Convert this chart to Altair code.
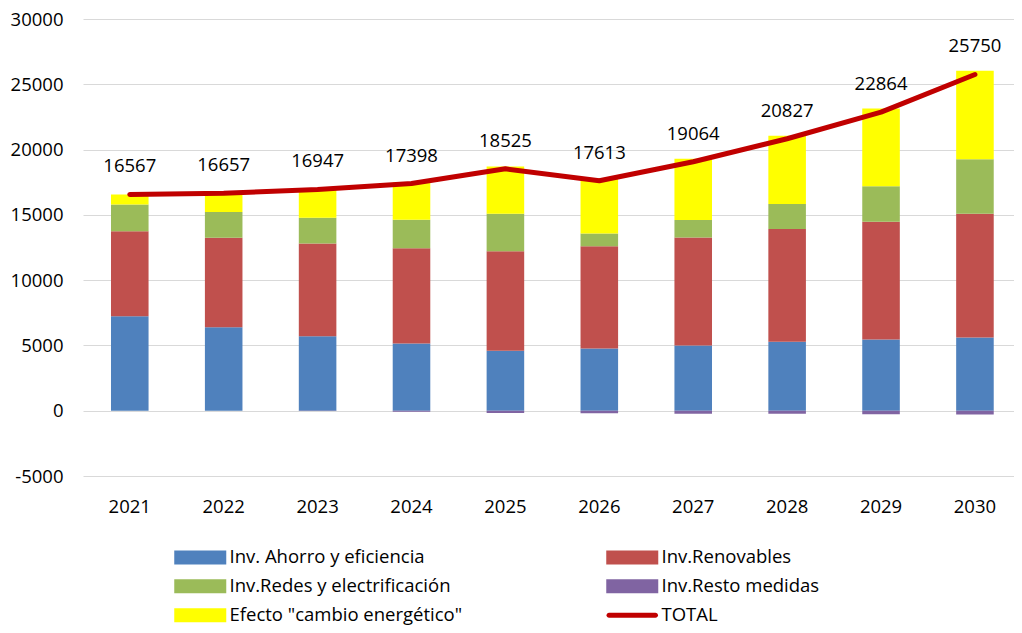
import altair as alt
import pandas as pd

years = ["2021", "2022", "2023", "2024", "2025", "2026", "2027", "2028", "2029", "2030"]
ahorro = [7230, 6390, 5700, 5140, 4600, 4760, 4990, 5290, 5450, 5600]
renovables = [6520, 6860, 7110, 7310, 7620, 7840, 8280, 8620, 9020, 9490]
redes = [2050, 1960, 1970, 2180, 2870, 980, 1330, 1920, 2730, 4160]
resto = [0, 0, -20, -80, -180, -200, -230, -240, -280, -290]
efecto = [767, 1447, 2187, 2848, 3615, 4233, 4694, 5237, 5944, 6790]
total = [16567, 16657, 16947, 17398, 18525, 17613, 19064, 20827, 22864, 25750]

# series in stacking order (bottom to top)
series_names = [
    "Inv. Ahorro y eficiencia",
    "Inv.Renovables",
    "Inv.Redes y electrificación",
    "Inv.Resto medidas",
    'Efecto "cambio energético"',
    "TOTAL",
]
series_colors = {
    "Inv. Ahorro y eficiencia": "#4F81BD",
    "Inv.Renovables": "#C0504D",
    "Inv.Redes y electrificación": "#9BBB59",
    "Inv.Resto medidas": "#8064A2",
    'Efecto "cambio energético"': "#FFFF00",
    "TOTAL": "#C00000",
}
# legend order (column-major, 2 columns x 3 rows)
legend_order = [
    "Inv. Ahorro y eficiencia",
    "Inv.Redes y electrificación",
    'Efecto "cambio energético"',
    "Inv.Renovables",
    "Inv.Resto medidas",
    "TOTAL",
]

RECT = "M-1,-1H6.43V1H-1Z"
LINE = "M-0.6,-0.36H6.03A0.36,0.36 0 0 1 6.03,0.36H-0.6A0.36,0.36 0 0 1 -0.6,-0.36Z"

rows = []
for i, yr in enumerate(years):
    for k, vals in enumerate([ahorro, renovables, redes, resto, efecto]):
        rows.append({"year": yr, "serie": series_names[k], "value": vals[i], "orden": k})
bars_df = pd.DataFrame(rows)
total_df = pd.DataFrame({"year": years, "serie": "TOTAL", "value": total})
legend_df = pd.concat([bars_df, total_df], ignore_index=True)

FONT = "Open Sans"

x_enc = alt.X(
    "year:N",
    scale=alt.Scale(paddingInner=0.6, paddingOuter=0.257, align=0.58),
    axis=alt.Axis(title=None, labelAngle=0, domain=False, ticks=False,
                  labelPadding=21, grid=False),
)
y_scale = alt.Scale(domain=[-5000, 30000], nice=False)
y_axis = alt.Axis(title=None, values=list(range(-5000, 30001, 5000)), domain=False,
                  ticks=False, labelPadding=20, gridColor="#D9D9D9", gridWidth=1.2,
                  format="d", labelExpr="replace(datum.label, '\u2212', '-')")
color_scale = alt.Scale(domain=legend_order, range=[series_colors[s] for s in legend_order])
shape_scale = alt.Scale(domain=legend_order,
                        range=[LINE if s == "TOTAL" else RECT for s in legend_order])

bars = alt.Chart(bars_df).mark_bar().encode(
    x=x_enc,
    y=alt.Y("value:Q", stack="zero", scale=y_scale, axis=y_axis),
    color=alt.Color("serie:N", scale=color_scale, legend=alt.Legend(title=None)),
    order=alt.Order("orden:Q"),
)

line = alt.Chart(total_df).mark_line(color="#C00000", strokeWidth=5, strokeCap="round",
                                     strokeJoin="round").encode(
    x=x_enc,
    y=alt.Y("value:Q", scale=y_scale),
)

labels = alt.Chart(total_df).mark_text(dy=-28, fontSize=18.5, font=FONT, color="#000000").encode(
    x=x_enc,
    y=alt.Y("value:Q", scale=y_scale),
    text=alt.Text("value:Q", format="d"),
)

legend_pts = alt.Chart(legend_df).mark_point(filled=True, opacity=0).encode(
    x=x_enc,
    y=alt.Y("value:Q", scale=y_scale),
    color=alt.Color("serie:N", scale=color_scale, legend=alt.Legend(title=None)),
    shape=alt.Shape("serie:N", scale=shape_scale, legend=alt.Legend(title=None)),
)

chart = alt.layer(bars, line, labels, legend_pts).properties(
    width=931,
    height=457,
    padding={"left": 75, "top": 11, "right": 0, "bottom": 149},
    autosize="none",
).configure_view(stroke=None).configure_axis(
    labelFont=FONT, labelFontSize=18.5, labelColor="#000000",
).configure_legend(
    orient="none", legendX=89, legendY=529, columns=2, columnPadding=141,
    rowPadding=10, symbolSize=196, symbolStrokeWidth=0, symbolOpacity=1,
    labelFont=FONT, labelFontSize=18.5, labelColor="#000000", labelOffset=39,
    labelLimit=500,
)

chart.save("out.html", embed_options={"renderer": "svg", "actions": False})
